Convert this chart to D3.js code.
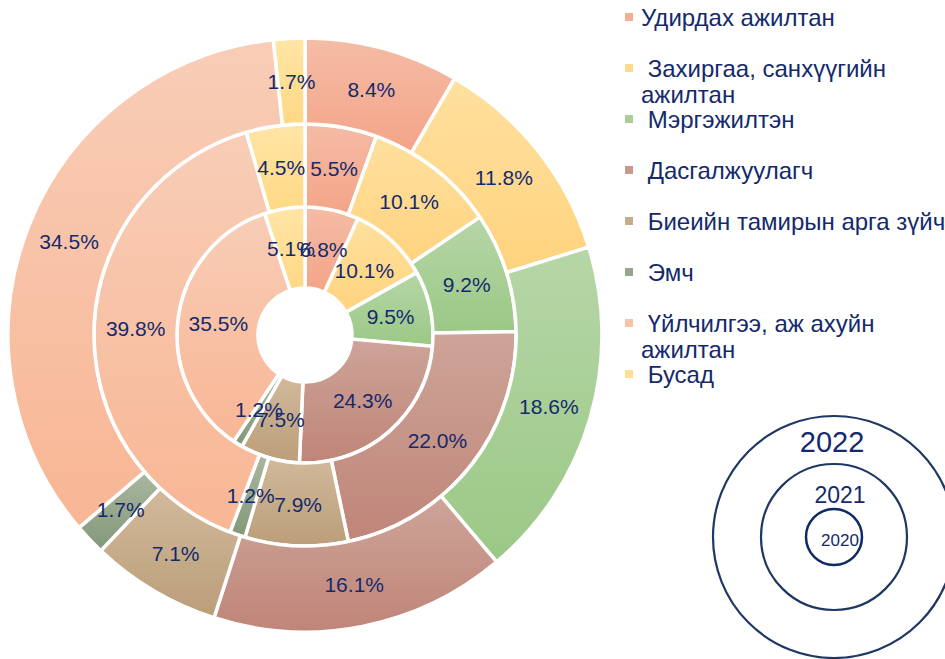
<!DOCTYPE html>
<html>
<head>
<meta charset="utf-8">
<script src="https://cdn.jsdelivr.net/npm/d3@7"></script>
<style>
  body { margin: 0; background: #fff; overflow: hidden; }
  text { font-family: "Liberation Sans", Arial, sans-serif; }
</style>
</head>
<body>
<div id="chart"></div>
<script>
// categories (legend order = slice order, clockwise from 12 o'clock)
var categories = [
  "Удирдах ажилтан",
  "Захиргаа, санхүүгийн ажилтан",
  "Мэргэжилтэн",
  "Дасгалжуулагч",
  "Биеийн тамирын арга зүйч",
  "Эмч",
  "Үйлчилгээ, аж ахуйн ажилтан",
  "Бусад"
];
// how the legend wraps the names
var legendLines = [
  ["Удирдах ажилтан"],
  [" Захиргаа, санхүүгийн", "ажилтан"],
  [" Мэргэжилтэн"],
  [" Дасгалжуулагч"],
  [" Биеийн тамирын арга зүйч"],
  [" Эмч"],
  [" Үйлчилгээ, аж ахуйн", "ажилтан"],
  [" Бусад"]
];

var years = ["2020", "2021", "2022"];
var values2020 = [6.8, 10.1, 9.5, 24.3, 7.5, 1.2, 35.5, 5.1];
var values2021 = [5.5, 10.1, 9.2, 22.0, 7.9, 1.2, 39.8, 4.5];
var values2022 = [8.4, 11.8, 18.6, 16.1, 7.1, 1.7, 34.5, 1.7];

// gradient top / bottom colours and legend swatch colour per category
var colorTop = ["#f5bca6", "#ffe09f", "#b6d6a7", "#cea499", "#d1b99b", "#aab7a0", "#f8cdb7", "#ffe5a6"];
var colorBottom = ["#f3a487", "#ffd37e", "#9bc886", "#bf8578", "#bb9e79", "#829879", "#f8b694", "#ffd884"];
var colorSwatch = ["#f4ae94", "#ffda8e", "#a9cf96", "#c79a8d", "#c5ac8a", "#97a78e", "#f8c2a6", "#ffdf95"];

var textColor = "#142a6b";
var width = 945, height = 659;
var cx = 305, cy = 335;

var svg = d3.select("#chart")
  .append("svg")
    .attr("width", width)
    .attr("height", height);

// vertical gradients, one per category
var defs = svg.append("defs");
categories.forEach(function(c, i) {
  var g = defs.append("linearGradient")
      .attr("id", "grad" + i)
      .attr("x1", 0).attr("y1", 0)
      .attr("x2", 0).attr("y2", 1);
  g.append("stop").attr("offset", "0%").attr("stop-color", colorTop[i]);
  g.append("stop").attr("offset", "100%").attr("stop-color", colorBottom[i]);
});

var pie = d3.pie().sort(null).value(function(d) { return d; });

// rings from inside out
var rings = [
  {year: "2020", values: values2020, r0: 47, r1: 128},
  {year: "2021", values: values2021, r0: 128, r1: 211},
  {year: "2022", values: values2022, r0: 211, r1: 297}
];

var g = svg.append("g")
    .attr("transform", "translate(" + cx + "," + cy + ")");

rings.forEach(function(ring) {
  var arc = d3.arc().innerRadius(ring.r0).outerRadius(ring.r1);
  var rg = g.append("g").attr("class", "ring-" + ring.year);

  rg.selectAll("path")
    .data(pie(ring.values))
    .enter()
    .append("path")
      .attr("d", arc)
      .attr("fill", function(d, i) { return "url(#grad" + i + ")"; })
      .attr("stroke", "#fff")
      .attr("stroke-width", 3.5);
});

// labels drawn after all rings so none get covered
rings.forEach(function(ring) {
  var arc = d3.arc().innerRadius(ring.r0).outerRadius(ring.r1);
  g.selectAll("text.lbl-" + ring.year)
    .data(pie(ring.values))
    .enter()
    .append("text")
      .attr("class", "lbl-" + ring.year)
      .attr("transform", function(d) { return "translate(" + arc.centroid(d) + ")"; })
      .attr("text-anchor", "middle")
      .attr("dy", "0.36em")
      .attr("font-size", 21)
      .attr("fill", textColor)
      .text(function(d) { return d.data.toFixed(1) + "%"; });
});

// legend
var legend = svg.append("g");
legendLines.forEach(function(lines, i) {
  var y0 = 17 + i * 51;
  legend.append("rect")
      .attr("x", 625)
      .attr("y", y0 - 4)
      .attr("width", 8)
      .attr("height", 8)
      .attr("fill", colorSwatch[i]);
  lines.forEach(function(line, j) {
    legend.append("text")
        .attr("x", 641)
        .attr("y", y0 + 9 + j * 26)
        .attr("font-size", 24)
        .attr("fill", textColor)
        .style("white-space", "pre")
        .text(line);
  });
});

// year key: concentric circles
var key = svg.append("g").attr("transform", "translate(834,537)");
var keyRadii = [28, 73, 121];
var keyText = [
  {dx: 6, dy: 9, size: 17},
  {dx: 6, dy: -34, size: 23},
  {dx: -2, dy: -85, size: 29}
];
years.forEach(function(y, i) {
  key.append("circle")
      .attr("r", keyRadii[i])
      .attr("fill", "none")
      .attr("stroke", i === 0 ? "#0f2a63" : "#1f3763")
      .attr("stroke-width", i === 0 ? 2.5 : 2.2);
  key.append("text")
      .attr("x", keyText[i].dx)
      .attr("y", keyText[i].dy)
      .attr("text-anchor", "middle")
      .attr("font-size", keyText[i].size)
      .attr("fill", textColor)
      .text(y);
});
</script>
</body>
</html>
